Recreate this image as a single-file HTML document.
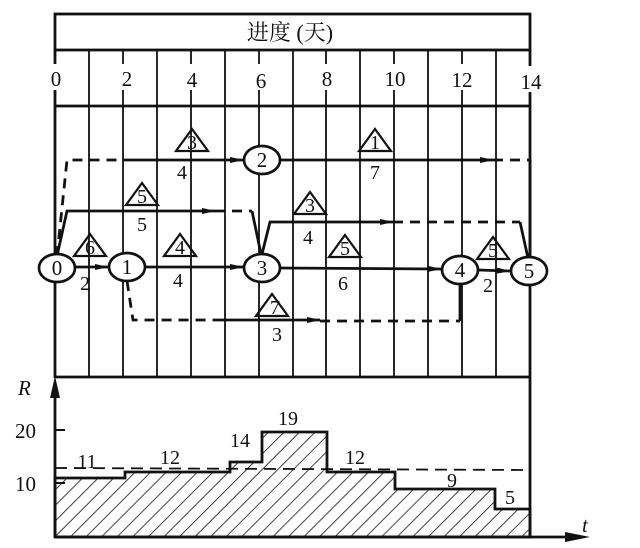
<!DOCTYPE html>
<html><head><meta charset="utf-8"><style>html,body{margin:0;padding:0;background:#fff;width:640px;height:548px;overflow:hidden}</style></head>
<body>
<svg width="640" height="548" viewBox="0 0 640 548" xmlns="http://www.w3.org/2000/svg" font-family="Liberation Serif, serif" fill="#111">
<defs>
<pattern id="h" patternUnits="userSpaceOnUse" width="11" height="11" patternTransform="rotate(45)">
<line x1="0" y1="0" x2="0" y2="11" stroke="#111" stroke-width="1.6"/>
</pattern>
<marker id="a" markerWidth="14" markerHeight="8" refX="13" refY="4" orient="auto" markerUnits="userSpaceOnUse"><path d="M0,1 L14,4 L0,7 Z" fill="#111"/></marker>
</defs>
<g stroke="#111" fill="none">
<rect x="55" y="14" width="475" height="36" stroke-width="2.8"/>
<line x1="55" y1="106" x2="530" y2="106" stroke-width="2.8"/>
<line x1="55" y1="377" x2="530" y2="377" stroke-width="2.8"/>
<line x1="530" y1="50" x2="530" y2="537" stroke-width="2.8"/>
<line x1="55" y1="50" x2="55" y2="378" stroke-width="2.8"/>
<g stroke-width="1.8">
<line x1="89" y1="50" x2="89" y2="377"/><line x1="123" y1="50" x2="123" y2="377"/>
<line x1="157" y1="50" x2="157" y2="377"/><line x1="191" y1="50" x2="191" y2="377"/>
<line x1="225" y1="50" x2="225" y2="377"/><line x1="259" y1="50" x2="259" y2="377"/>
<line x1="293" y1="50" x2="293" y2="377"/><line x1="326" y1="50" x2="326" y2="377"/>
<line x1="360" y1="50" x2="360" y2="377"/><line x1="394" y1="50" x2="394" y2="377"/>
<line x1="428" y1="50" x2="428" y2="377"/><line x1="462" y1="50" x2="462" y2="377"/>
<line x1="496" y1="50" x2="496" y2="377"/>
</g>
</g>
<g fill="#fff"><rect x="46" y="64" width="20" height="26"/><rect x="117" y="64" width="20" height="26"/><rect x="181" y="64" width="20" height="26"/><rect x="249" y="64" width="20" height="26"/><rect x="316" y="64" width="20" height="26"/><rect x="380" y="64" width="30" height="26"/><rect x="448" y="64" width="30" height="26"/><rect x="516" y="66" width="30" height="26"/></g>
<text x="290" y="40" font-size="22" text-anchor="middle" font-family="Liberation Serif, 'Noto Serif CJK SC', serif">进度 (天)</text>
<g font-size="21" text-anchor="middle">
<text x="56" y="86">0</text><text x="127" y="86">2</text><text x="192" y="87">4</text><text x="261" y="88">6</text><text x="327" y="86">8</text><text x="395" y="86">10</text><text x="462" y="87">12</text><text x="531" y="89">14</text>
</g>
<g stroke="#111" fill="none" stroke-width="2.8">
<polyline points="57,256 67,160 125,160" stroke-dasharray="10,7"/>
<line x1="125" y1="160" x2="243" y2="160" marker-end="url(#a)"/>
<line x1="280" y1="160" x2="493" y2="160" marker-end="url(#a)"/>
<polyline points="493,160 530,160" stroke-dasharray="10,7"/>
<line x1="530" y1="160" x2="530" y2="258"/>
<polyline points="57,256 67,211 215,211" marker-end="url(#a)"/>
<polyline points="215,211 252,211" stroke-dasharray="10,7"/>
<polyline points="252,211 261,254"/>
<polyline points="262,254 270,222 393,222" marker-end="url(#a)"/>
<polyline points="393,222 520,222" stroke-dasharray="10,7"/>
<polyline points="520,222 528,258"/>
<line x1="75" y1="267" x2="108" y2="267" marker-end="url(#a)"/>
<line x1="145" y1="267" x2="243" y2="267" marker-end="url(#a)"/>
<line x1="280" y1="268" x2="441" y2="269" marker-end="url(#a)"/>
<line x1="478" y1="270" x2="510" y2="271" marker-end="url(#a)"/>
<polyline points="127,281 133,320 213,320" stroke-dasharray="10,7"/>
<line x1="213" y1="320" x2="265" y2="320"/>
<line x1="265" y1="320" x2="320" y2="320" marker-end="url(#a)"/>
<polyline points="320,321 460,321" stroke-dasharray="10,7"/>
<polyline points="460,321 460,284"/>
</g>
<g stroke="#111" stroke-width="2.7" fill="#fff">
<ellipse cx="57" cy="268" rx="18" ry="14"/><ellipse cx="127" cy="267" rx="18" ry="14"/>
<ellipse cx="262" cy="268" rx="18" ry="14"/><ellipse cx="262" cy="160" rx="18" ry="14"/>
<ellipse cx="460" cy="270" rx="18" ry="14"/><ellipse cx="529" cy="271" rx="18" ry="14"/>
</g>
<g font-size="21" text-anchor="middle">
<text x="57" y="275">0</text><text x="127" y="274">1</text><text x="262" y="275">3</text><text x="262" y="167">2</text><text x="460" y="277">4</text><text x="529" y="278">5</text>
</g>
<g stroke="#111" stroke-width="2.2" fill="none">
<path d="M192,129 L208,151 L176,151 Z"/><path d="M375,129 L391,151 L359,151 Z"/>
<path d="M142,183 L158,205 L126,205 Z"/><path d="M310,192 L326,214 L294,214 Z"/>
<path d="M90,234 L106,256 L74,256 Z"/><path d="M180,234 L196,256 L164,256 Z"/>
<path d="M345,235 L361,257 L329,257 Z"/><path d="M493,237 L509,259 L477,259 Z"/>
<path d="M272,294 L288,316 L256,316 Z"/>
</g>
<g font-size="20" text-anchor="middle">
<text x="192" y="149">3</text><text x="375" y="149">1</text><text x="142" y="203">5</text><text x="310" y="212">3</text>
<text x="90" y="254">6</text><text x="180" y="254">4</text><text x="345" y="255">5</text><text x="493" y="257">5</text><text x="275" y="314">7</text>
<text x="182" y="179">4</text><text x="375" y="179">7</text><text x="142" y="231">5</text><text x="308" y="244">4</text>
<text x="85" y="290">2</text><text x="178" y="287">4</text><text x="343" y="290">6</text><text x="488" y="292">2</text><text x="277" y="341">3</text>
</g>
<path d="M55,537 L55,478 L125,478 L125,472 L230,472 L230,462 L262,462 L262,432 L327,432 L327,472 L395,472 L395,489 L495,489 L495,509 L530,509 L530,537 Z" fill="url(#h)" stroke="#111" stroke-width="2.8"/>
<line x1="55" y1="468" x2="530" y2="470" stroke="#111" stroke-width="1.8" stroke-dasharray="12,7"/>
<line x1="55" y1="537" x2="575" y2="537" stroke="#111" stroke-width="2.8"/>
<path d="M590,537 L565,532 L565,542 Z" fill="#111"/>
<line x1="55" y1="537" x2="55" y2="385" stroke="#111" stroke-width="2.8"/>
<path d="M55,376 L50,398 L60,398 Z" fill="#111"/>
<line x1="55" y1="430" x2="65" y2="430" stroke="#111" stroke-width="2"/>
<line x1="55" y1="483" x2="65" y2="483" stroke="#111" stroke-width="2"/>
<g font-size="21">
<text x="18" y="395" font-style="italic">R</text><text x="582" y="532" font-style="italic">t</text>
<text x="15" y="438">20</text><text x="15" y="491">10</text>
</g>
<g font-size="20" text-anchor="middle">
<text x="87" y="468">11</text><text x="170" y="464">12</text><text x="240" y="447">14</text><text x="288" y="425">19</text><text x="355" y="464">12</text><text x="452" y="487">9</text><text x="510" y="504">5</text>
</g>
</svg>
</body></html>
